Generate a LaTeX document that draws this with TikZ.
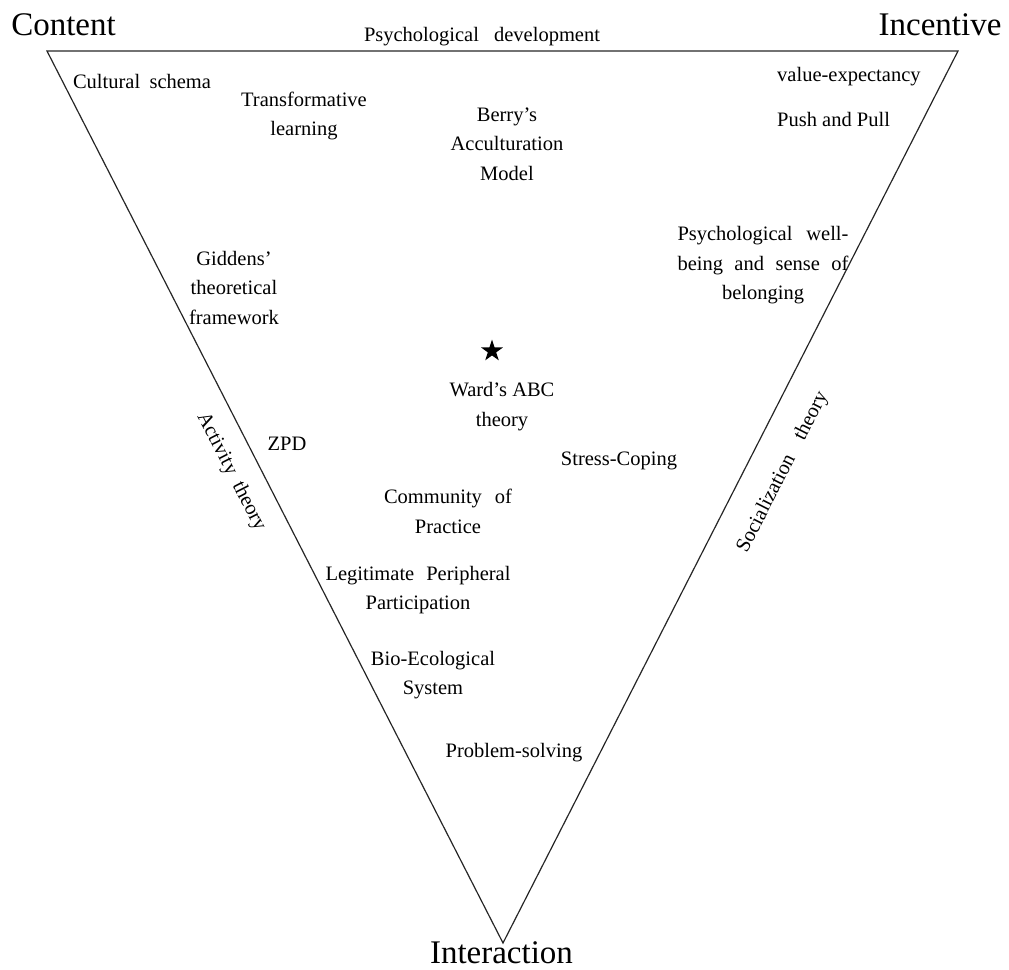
\documentclass[tikz,border=0pt]{standalone}
\usepackage{fontspec}
\setmainfont{Liberation Serif}
\usetikzlibrary{shapes.geometric}
\begin{document}
\begin{tikzpicture}[x=1pt,y=-1pt,
  edge/.style={draw=black!85, line width=1.2pt, line join=miter},
  theory/.style={font=\fontsize{20.5}{29.5}\selectfont, align=center, inner sep=0pt},
  corner/.style={font=\fontsize{33}{36}\selectfont, inner sep=0pt, anchor=base},
]
\useasboundingbox (0,0) rectangle (1009,969);

% corners of the inverted triangle
\coordinate (C) at (47,51);
\coordinate (I) at (958,51);
\coordinate (N) at (503,943);
\draw[edge] (C) -- (I) -- (N) -- cycle;

% corner labels
\node[corner] (content) at (63.5,35) {Content};
\node[corner] (incentive) at (940,35) {Incentive};
\node[corner] (interaction) at (501.5,963) {Interaction};

% theories inside the triangle
\node[theory, anchor=base] (psydev) at (482,41) {\makebox[236pt][s]{Psychological development}};
\node[theory, anchor=base] (cultural) at (142,88) {\makebox[138pt][s]{Cultural schema}};
\node[theory] (transf) at (304,116) {Transformative\\learning};
\node[theory] (berry) at (507,144) {Berry’s\\Acculturation\\Model};
\node[theory, anchor=base west] (valexp) at (777,81) {value-expectancy};
\node[theory, anchor=base west] (pushpull) at (777,126) {Push and Pull};
\node[theory] (wellbeing) at (763,265.5) {\makebox[171pt][s]{Psychological well-}\\\makebox[171pt][s]{being and sense of}\\belonging};
\node[theory] (giddens) at (234,287.5) {Giddens’\\theoretical\\framework};
\node[star, star points=5, star point ratio=2.6, fill=black, inner sep=0pt, minimum size=23pt] (star) at (492,351) {};
\node[theory] (ward) at (502,406.5) {Ward’s ABC\\theory};
\node[theory, anchor=base] (zpd) at (287,450) {ZPD};
\node[theory, anchor=base] (stress) at (619,465) {Stress-Coping};
\node[theory] (cop) at (448,511.5) {\makebox[128pt][s]{Community of}\\Practice};
\node[theory] (lpp) at (418,590) {\makebox[185pt][s]{Legitimate Peripheral}\\Participation};
\node[theory] (bio) at (433,675) {Bio-Ecological\\System};
\node[theory, anchor=base] (problem) at (514,757) {Problem-solving};

% labels along the slanted sides
\node[theory, rotate=-62.9] (activity) at (231,472) {\makebox[130pt][s]{Activity theory}};
\node[theory, rotate=63] (social) at (783,472) {\makebox[178pt][s]{Socialization theory}};
\end{tikzpicture}
\end{document}
